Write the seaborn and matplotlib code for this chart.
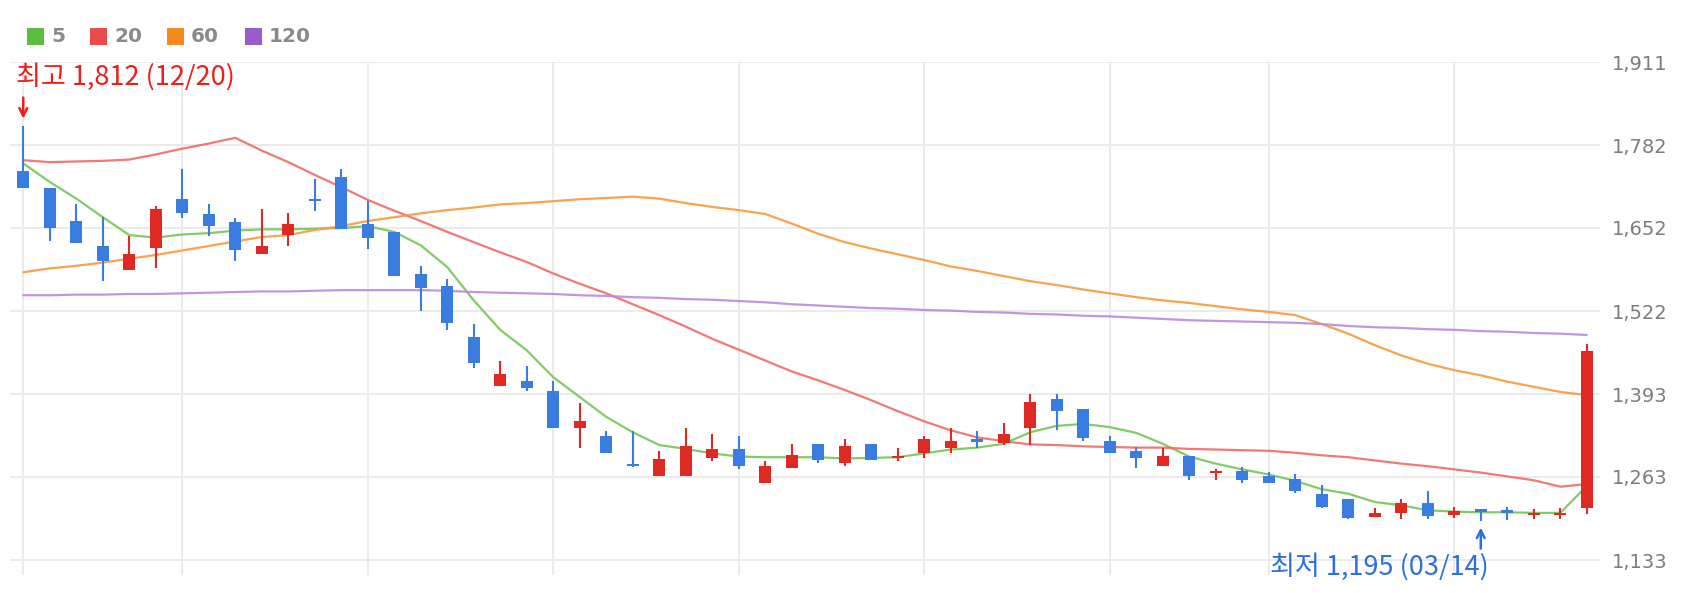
import numpy as np
import pandas as pd
import matplotlib
matplotlib.use("Agg")
import matplotlib.pyplot as plt
from matplotlib.patches import Rectangle
import seaborn as sns

sns.set_theme(style="white")
plt.rcParams["font.family"] = ["DejaVu Sans"]

# daily candles, 12/20 .. last session (60 sessions)
opens = [1741, 1714, 1663, 1624, 1586, 1621, 1697, 1674, 1662, 1612,
         1641, 1697, 1732, 1658, 1646, 1580, 1561, 1482, 1405, 1413,
         1397, 1339, 1327, 1283, 1265, 1265, 1292, 1307, 1254, 1277,
         1315, 1285, 1315, 1293, 1300, 1308, 1323, 1316, 1339, 1385,
         1369, 1319, 1303, 1281, 1296, 1270, 1273, 1264, 1260, 1237,
         1228, 1200, 1207, 1222, 1203, 1213, 1212, 1204, 1204, 1214]
highs = [1812, 1714, 1690, 1670, 1640, 1686, 1745, 1690, 1667, 1682,
         1675, 1729, 1744, 1694, 1646, 1592, 1573, 1502, 1444, 1436,
         1413, 1378, 1335, 1335, 1304, 1339, 1331, 1327, 1288, 1315,
         1315, 1323, 1315, 1308, 1327, 1339, 1335, 1347, 1393, 1393,
         1369, 1327, 1310, 1309, 1296, 1276, 1279, 1271, 1267, 1251,
         1228, 1214, 1229, 1241, 1217, 1213, 1216, 1213, 1215, 1471]
lows = [1714, 1632, 1628, 1570, 1586, 1590, 1668, 1640, 1601, 1612,
        1624, 1679, 1651, 1620, 1577, 1523, 1492, 1433, 1405, 1398,
        1339, 1308, 1301, 1278, 1265, 1265, 1288, 1276, 1254, 1277,
        1285, 1280, 1289, 1288, 1293, 1301, 1309, 1313, 1313, 1336,
        1319, 1301, 1277, 1281, 1258, 1258, 1254, 1254, 1238, 1214,
        1197, 1200, 1198, 1198, 1199, 1195, 1196, 1197, 1197, 1206]
closes = [1714, 1652, 1628, 1600, 1612, 1682, 1675, 1655, 1617, 1624,
          1658, 1695, 1651, 1637, 1577, 1558, 1503, 1441, 1424, 1402,
          1339, 1351, 1301, 1280, 1291, 1311, 1307, 1280, 1280, 1298,
          1289, 1311, 1289, 1296, 1322, 1319, 1318, 1330, 1381, 1366,
          1324, 1301, 1293, 1296, 1265, 1273, 1258, 1254, 1242, 1217,
          1199, 1207, 1223, 1202, 1210, 1208, 1207, 1207, 1207, 1460]

# moving averages as drawn on the chart
ma5 = [1753, 1724, 1698, 1669, 1641, 1637, 1642, 1644, 1648, 1650,
       1650, 1651, 1652, 1655, 1646, 1625, 1591, 1539, 1493, 1461,
       1419, 1388, 1357, 1333, 1313, 1307, 1300, 1295, 1294, 1294,
       1294, 1292, 1293, 1294, 1300, 1306, 1309, 1315, 1333, 1343,
       1346, 1341, 1332, 1315, 1295, 1284, 1275, 1267, 1257, 1244,
       1237, 1224, 1219, 1211, 1209, 1208, 1208, 1207, 1207, 1249]
ma20 = [1758, 1755, 1756, 1757, 1759, 1767, 1776, 1784, 1793, 1773,
        1755, 1735, 1716, 1696, 1679, 1663, 1646, 1630, 1614, 1599,
        1581, 1565, 1550, 1533, 1516, 1498, 1479, 1462, 1445, 1428,
        1414, 1399, 1383, 1366, 1350, 1336, 1325, 1319, 1314, 1313,
        1311, 1310, 1309, 1309, 1307, 1306, 1305, 1304, 1301, 1297,
        1294, 1289, 1284, 1280, 1275, 1270, 1264, 1258, 1248, 1252]
ma60 = [1583, 1589, 1593, 1598, 1604, 1610, 1617, 1624, 1631, 1638,
        1641, 1649, 1655, 1663, 1669, 1675, 1680, 1684, 1689, 1691,
        1694, 1697, 1699, 1701, 1698, 1691, 1685, 1680, 1674, 1659,
        1643, 1630, 1620, 1611, 1602, 1592, 1585, 1577, 1569, 1563,
        1556, 1550, 1544, 1539, 1535, 1530, 1525, 1521, 1516, 1502,
        1487, 1469, 1453, 1440, 1430, 1422, 1412, 1404, 1396, 1391]
ma120 = [1547, 1547, 1548, 1548, 1549, 1549, 1550, 1551, 1552, 1553,
         1553, 1554, 1555, 1555, 1555, 1555, 1554, 1552, 1551, 1550,
         1549, 1547, 1546, 1544, 1543, 1541, 1540, 1538, 1536, 1533,
         1531, 1529, 1527, 1526, 1524, 1523, 1521, 1520, 1518, 1517,
         1515, 1514, 1512, 1510, 1508, 1507, 1506, 1505, 1504, 1502,
         1499, 1497, 1496, 1494, 1493, 1491, 1490, 1488, 1487, 1485]

ma_labels = ["5", "20", "60", "120"]
line_colors = ["#74c757", "#f06a68", "#f8993c", "#b98ae0"]
legend_colors = ["#5cbd3e", "#ea4c4c", "#f68a1e", "#9c5bcc"]

y_ticks = [1133.4, 1263.1, 1392.7, 1522.4, 1652.1, 1781.7, 1911.4]
y_tick_labels = ["1,133", "1,263", "1,393", "1,522", "1,652", "1,782", "1,911"]
grid_idx = [0, 6, 13, 20, 27, 34, 41, 47, 54]

hi_idx, hi_text = 0, "최고 1,812 (12/20)"
lo_idx, lo_text = 55, "최저 1,195 (03/14)"

UP, DOWN = "#de2a22", "#387ddf"
HI_COL, LO_COL = "#ee1f1a", "#2d6fe0"
KR = ["Noto Sans CJK KR", "DejaVu Sans"]

W, H = 1697, 593
fig = plt.figure(figsize=(W / 100, H / 100), dpi=100)
ax = fig.add_axes([10 / W, 1 - 575 / H, 1590 / W, 513 / H])

x = np.arange(len(closes))
ma_df = pd.DataFrame({"x": x, "5": ma5, "20": ma20, "60": ma60, "120": ma120})
for lab, colr in zip(ma_labels, line_colors):
    sns.lineplot(data=ma_df, x="x", y=lab, ax=ax, color=colr, lw=1.6,
                 alpha=0.9, zorder=2, legend=False)

o = np.array(opens, float)
c = np.array(closes, float)
col = np.where(c >= o, UP, DOWN)
h = np.maximum(np.abs(c - o), 3.0)
bot = (o + c) / 2 - h / 2
ax.vlines(x, lows, highs, colors=col, lw=1.5, zorder=3)
ax.bar(x, h, bottom=bot, width=0.47, color=col, linewidth=0, zorder=4)

ax.set_xlim(-0.5, 59.5)
ax.set_ylim(1110, 1911.4)
ax.set_xticks(grid_idx)
ax.set_xticklabels([])
ax.set_yticks(y_ticks)
ax.set_yticklabels(y_tick_labels)
ax.yaxis.tick_right()
ax.tick_params(axis="both", length=0)
ax.tick_params(axis="y", pad=8.5, labelsize=14, labelcolor="#7d7d7d")
ax.grid(True, color="#ebebeb", lw=1.4)
ax.set_axisbelow(True)
for s in ax.spines.values():
    s.set_visible(False)
ax.set_xlabel("")
ax.set_ylabel("")

# max / min markers
arrow = dict(arrowstyle="->", lw=1.8, mutation_scale=14, shrinkA=0, shrinkB=5)
ax.annotate("", xy=(hi_idx, highs[hi_idx]), xytext=(0, 28), textcoords="offset pixels",
            arrowprops=dict(arrow, color=HI_COL))
ax.annotate(hi_text, xy=(hi_idx, highs[hi_idx]), xytext=(-7, 35), textcoords="offset pixels",
            ha="left", va="bottom", color=HI_COL, fontsize=19.5, family=KR)
ax.annotate("", xy=(lo_idx, lows[lo_idx]), xytext=(0, -28), textcoords="offset pixels",
            arrowprops=dict(arrow, color=LO_COL))
t = ax.annotate(lo_text, xy=(lo_idx, lows[lo_idx]), xytext=(8, -32), textcoords="offset pixels",
                ha="right", va="top", color=LO_COL, fontsize=19.5, family=KR)
t.set_clip_on(True)

# legend row
for lab, colr, lx in zip(ma_labels, legend_colors, [27, 90, 167, 245]):
    fig.add_artist(Rectangle((lx / W, 1 - 45 / H), 17 / W, 17 / H,
                             transform=fig.transFigure, color=colr, lw=0))
    fig.text((lx + 24) / W, 1 - 37 / H, lab, va="center", ha="left",
             fontsize=14.5, fontweight="bold", color="#8a8a8a")

fig.savefig("out.png", dpi=100)
